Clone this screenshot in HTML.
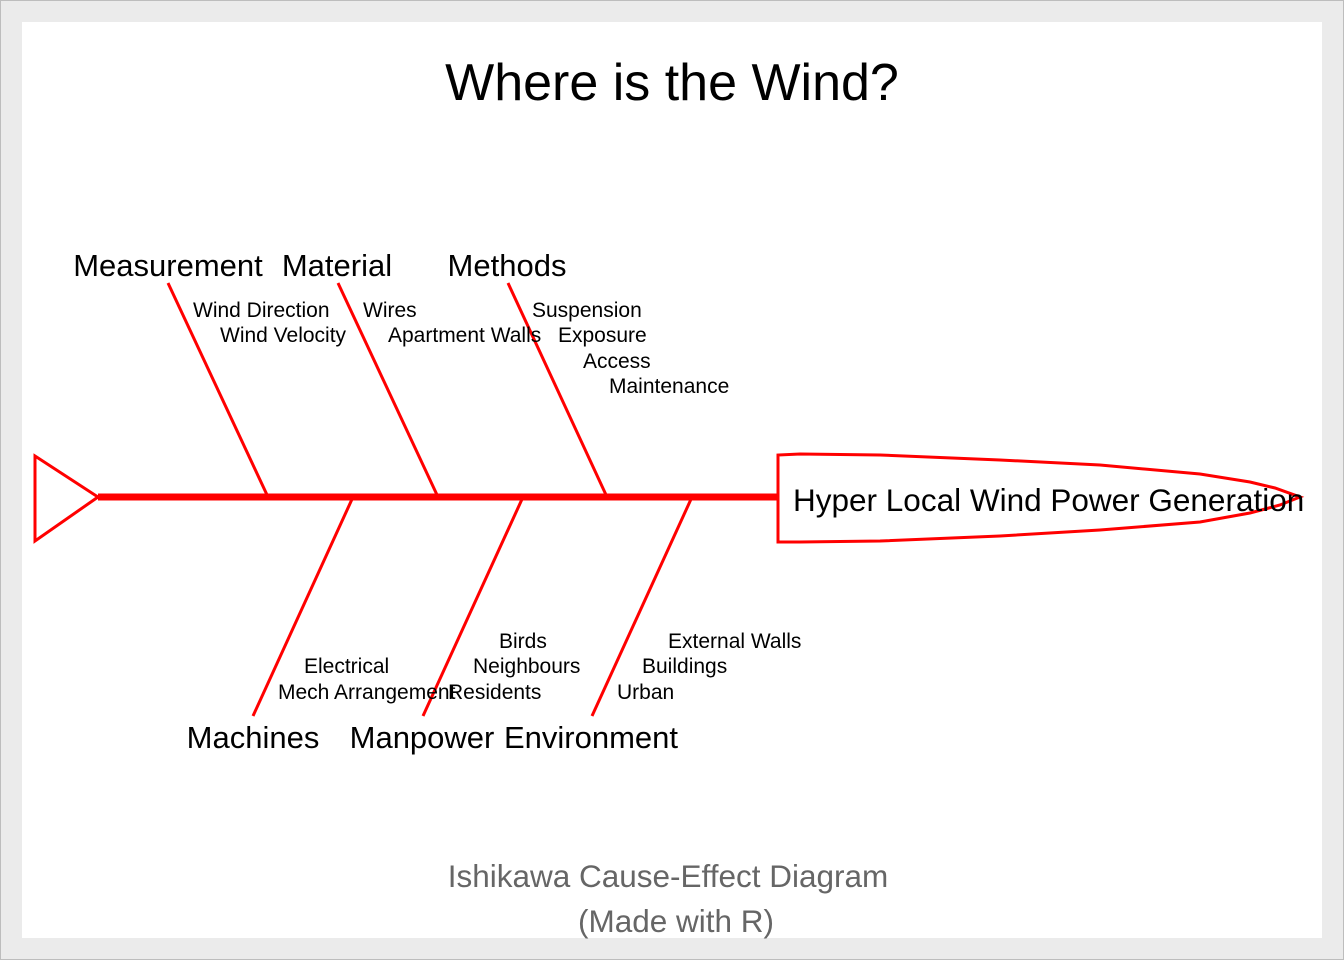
<!DOCTYPE html>
<html><head><meta charset="utf-8"><style>
html,body{margin:0;padding:0;background:#ebebeb;}
svg{display:block;}
text{font-family:"Liberation Sans",Arial,sans-serif;}
</style></head><body>
<svg width="1344" height="960" viewBox="0 0 1344 960" xmlns="http://www.w3.org/2000/svg">
<rect x="0.5" y="0.5" width="1343" height="959" fill="#ebebeb" stroke="#bdbdbd"/>
<rect x="22" y="22" width="1300" height="916" fill="#fff"/>
<text x="672" y="100" font-size="52" text-anchor="middle">Where is the Wind?</text>
<g stroke="#ff0000" fill="none" stroke-width="3">
<polygon points="35,456 98,497 35,541"/>
<line x1="98" y1="497" x2="779" y2="497" stroke-width="7"/>
<line x1="168" y1="283" x2="268" y2="497"/>
<line x1="338" y1="283" x2="438" y2="497"/>
<line x1="508" y1="283" x2="607" y2="497"/>
<line x1="353" y1="497" x2="253" y2="716"/>
<line x1="523" y1="497" x2="423" y2="716"/>
<line x1="692" y1="497" x2="592" y2="716"/>
<path d="M778,497 L778,455 L800,454 L880,455 L1000,460 L1100,465 L1200,474 L1250,482 L1275,488 L1300,497 L1280,505 L1250,513 L1200,522 L1100,530 L1000,536 L880,541 L800,542 L778,542 Z"/>
</g>
<text x="793" y="511" font-size="31.5">Hyper Local Wind Power Generation</text>
<g font-size="31" text-anchor="middle">
<text x="168" y="276">Measurement</text>
<text x="337" y="276">Material</text>
<text x="507" y="276">Methods</text>
<text x="253" y="748">Machines</text>
<text x="422" y="748">Manpower</text>
<text x="591" y="748">Environment</text>
</g>
<g font-size="21">
<text x="193" y="317">Wind Direction</text>
<text x="220" y="342">Wind Velocity</text>
<text x="363" y="317">Wires</text>
<text x="388" y="342">Apartment Walls</text>
<text x="532" y="317">Suspension</text>
<text x="558" y="342">Exposure</text>
<text x="583" y="368">Access</text>
<text x="609" y="393">Maintenance</text>
<text x="304" y="673">Electrical</text>
<text x="278" y="699">Mech Arrangement</text>
<text x="499" y="648">Birds</text>
<text x="473" y="673">Neighbours</text>
<text x="448" y="699">Residents</text>
<text x="668" y="648">External Walls</text>
<text x="642" y="673">Buildings</text>
<text x="617" y="699">Urban</text>
</g>
<g font-size="31.5" fill="#666" text-anchor="middle">
<text x="668" y="887">Ishikawa Cause-Effect Diagram</text>
<text x="676" y="932">(Made with R)</text>
</g>
</svg>
</body></html>
